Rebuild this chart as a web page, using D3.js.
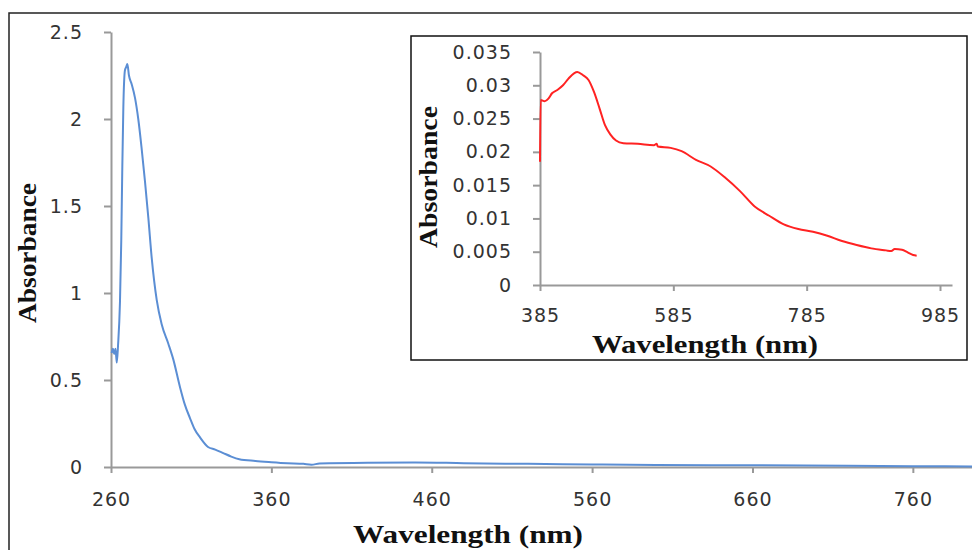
<html>
  <head>
    <style>
      body { margin: 0; background: #fff; }
      .tick text { font-family: "DejaVu Sans", Verdana, sans-serif; font-size: 19px; letter-spacing: 1px; fill: #333; }
      .title { font-family: "Liberation Serif", "Times New Roman", serif; font-weight: bold; fill: #111; }
    </style>
  </head>
  <script src="https://d3js.org/d3.v7.min.js"></script>
  <body>
    <script>
      // main spectrum (UV region)
      let mainWave = [260.4, 261.2, 262, 262.8, 263.6, 264.4, 265.6, 266.4, 267, 267.7, 268.7, 269.5, 270.2, 271.2, 272.9,
                      275, 277, 279, 281.2, 283.3, 285.4, 288.5, 291.6, 295.7, 298.8, 303, 306, 309.3, 312, 315.5, 320.5,
                      325, 330, 335, 340, 350, 360, 370, 380, 385, 390, 420, 450, 480, 520, 560, 600, 660, 720, 760, 800];
      let mainAbs = [0.655, 0.68, 0.65, 0.68, 0.6, 0.7, 0.95, 1.3, 1.69, 2.07, 2.28, 2.3, 2.316, 2.25, 2.2,
                     2.12, 2.0, 1.84, 1.64, 1.43, 1.2, 0.96, 0.82, 0.71, 0.62, 0.46, 0.36, 0.28, 0.22, 0.17, 0.115,
                     0.1, 0.08, 0.06, 0.045, 0.035, 0.028, 0.022, 0.018, 0.013, 0.02, 0.025, 0.026, 0.022, 0.018, 0.015, 0.012, 0.01, 0.007, 0.005, 0.003];
      let mainXTicks = [260, 360, 460, 560, 660, 760];
      let mainYTicks = [0, 0.5, 1, 1.5, 2, 2.5];

      // inset spectrum (visible region)
      let insetWave = [385, 386, 392, 397.6, 403, 411, 419.5, 427.7, 436, 441, 449.6, 457.8, 466, 474.4, 482.5, 490.7, 499,
                       510, 531.7, 556, 560, 561.8, 581, 597.4, 619, 641, 663, 685, 707, 728.8, 750.7, 772.5, 794.5,
                       816, 838, 860, 882, 904, 912, 917, 928, 936.5, 944.7, 950];
      let insetAbs = [0.0185, 0.0278, 0.0276, 0.028, 0.0288, 0.0293, 0.030, 0.031, 0.0318, 0.032, 0.0315, 0.0308, 0.029, 0.0265, 0.024, 0.0226, 0.0217,
                      0.0213, 0.0212, 0.021, 0.0212, 0.0208, 0.0206, 0.0201, 0.0188, 0.0178, 0.0161, 0.0141, 0.0118, 0.0104, 0.0091, 0.0084, 0.008,
                      0.0074, 0.0066, 0.006, 0.0055, 0.0052, 0.0051, 0.0054, 0.0053, 0.0049, 0.0045, 0.0044];
      let insetXTicks = [385, 585, 785, 985];
      let insetYTicks = [0, 0.005, 0.01, 0.015, 0.02, 0.025, 0.03, 0.035];

      let width = 972;
      let height = 550;
      let svg = d3.select("body").append("svg")
                  .attr("width", width)
                  .attr("height", height);

      // outer frame (cut off at right and bottom)
      svg.append("rect")
         .attr("x", 9).attr("y", 13)
         .attr("width", 1000).attr("height", 600)
         .attr("fill", "none").attr("stroke", "#222").attr("stroke-width", 1.5);

      function styleAxis(g) {
        g.select(".domain").attr("stroke", "#999").attr("stroke-width", 2);
        g.selectAll(".tick line").attr("stroke", "#999").attr("stroke-width", 2);
      }

      // ---- main chart ----
      let x = d3.scaleLinear().domain([260, 800]).range([111, 977]);
      let y = d3.scaleLinear().domain([0, 2.5]).range([467, 32]);

      svg.append("g")
         .attr("transform", "translate(111,0)")
         .call(d3.axisLeft(y).tickValues(mainYTicks).tickFormat(d3.format("")).tickSize(7).tickPadding(21).tickSizeOuter(0))
         .call(styleAxis);
      svg.append("g")
         .attr("transform", "translate(0,467)")
         .call(d3.axisBottom(x).tickValues(mainXTicks).tickSize(6).tickPadding(20).tickSizeOuter(0))
         .call(styleAxis);

      let mainLine = d3.line()
                       .x((d, i) => x(mainWave[i]))
                       .y(d => y(d))
                       .curve(d3.curveMonotoneX);
      svg.append("path")
         .attr("d", mainLine(mainAbs))
         .attr("fill", "none")
         .attr("stroke", "#5b8ed4")
         .attr("stroke-width", 2);

      svg.append("text")
         .attr("class", "title")
         .attr("transform", "translate(36,253) rotate(-90)")
         .attr("text-anchor", "middle")
         .attr("font-size", 26)
         .attr("textLength", 140).attr("lengthAdjust", "spacingAndGlyphs")
         .text("Absorbance");
      svg.append("text")
         .attr("class", "title")
         .attr("x", 468).attr("y", 543)
         .attr("text-anchor", "middle")
         .attr("font-size", 26)
         .attr("textLength", 230).attr("lengthAdjust", "spacingAndGlyphs")
         .text("Wavelength (nm)");

      // ---- inset chart ----
      svg.append("rect")
         .attr("x", 411).attr("y", 36)
         .attr("width", 556).attr("height", 324)
         .attr("fill", "#fff").attr("stroke", "#111").attr("stroke-width", 1.5);

      let ix = d3.scaleLinear().domain([385, 1003]).range([540, 952]);
      let iy = d3.scaleLinear().domain([0, 0.035]).range([285, 52]);

      svg.append("g")
         .attr("transform", "translate(540,0)")
         .call(d3.axisLeft(iy).tickValues(insetYTicks).tickFormat(d3.format("")).tickSize(7).tickPadding(21).tickSizeOuter(0))
         .call(styleAxis);
      svg.append("g")
         .attr("transform", "translate(0,285)")
         .call(d3.axisBottom(ix).tickValues(insetXTicks).tickSize(6).tickPadding(18).tickSizeOuter(0))
         .call(styleAxis);

      let insetLine = d3.line()
                        .x((d, i) => ix(insetWave[i]))
                        .y(d => iy(d))
                        .curve(d3.curveMonotoneX);
      svg.append("path")
         .attr("d", insetLine(insetAbs))
         .attr("fill", "none")
         .attr("stroke", "#f22")
         .attr("stroke-width", 2);

      svg.append("text")
         .attr("class", "title")
         .attr("transform", "translate(437,177) rotate(-90)")
         .attr("text-anchor", "middle")
         .attr("font-size", 25)
         .attr("textLength", 142).attr("lengthAdjust", "spacingAndGlyphs")
         .text("Absorbance");
      svg.append("text")
         .attr("class", "title")
         .attr("x", 705).attr("y", 353)
         .attr("text-anchor", "middle")
         .attr("font-size", 25)
         .attr("textLength", 226).attr("lengthAdjust", "spacingAndGlyphs")
         .text("Wavelength (nm)");
    </script>
  </body>
</html>
